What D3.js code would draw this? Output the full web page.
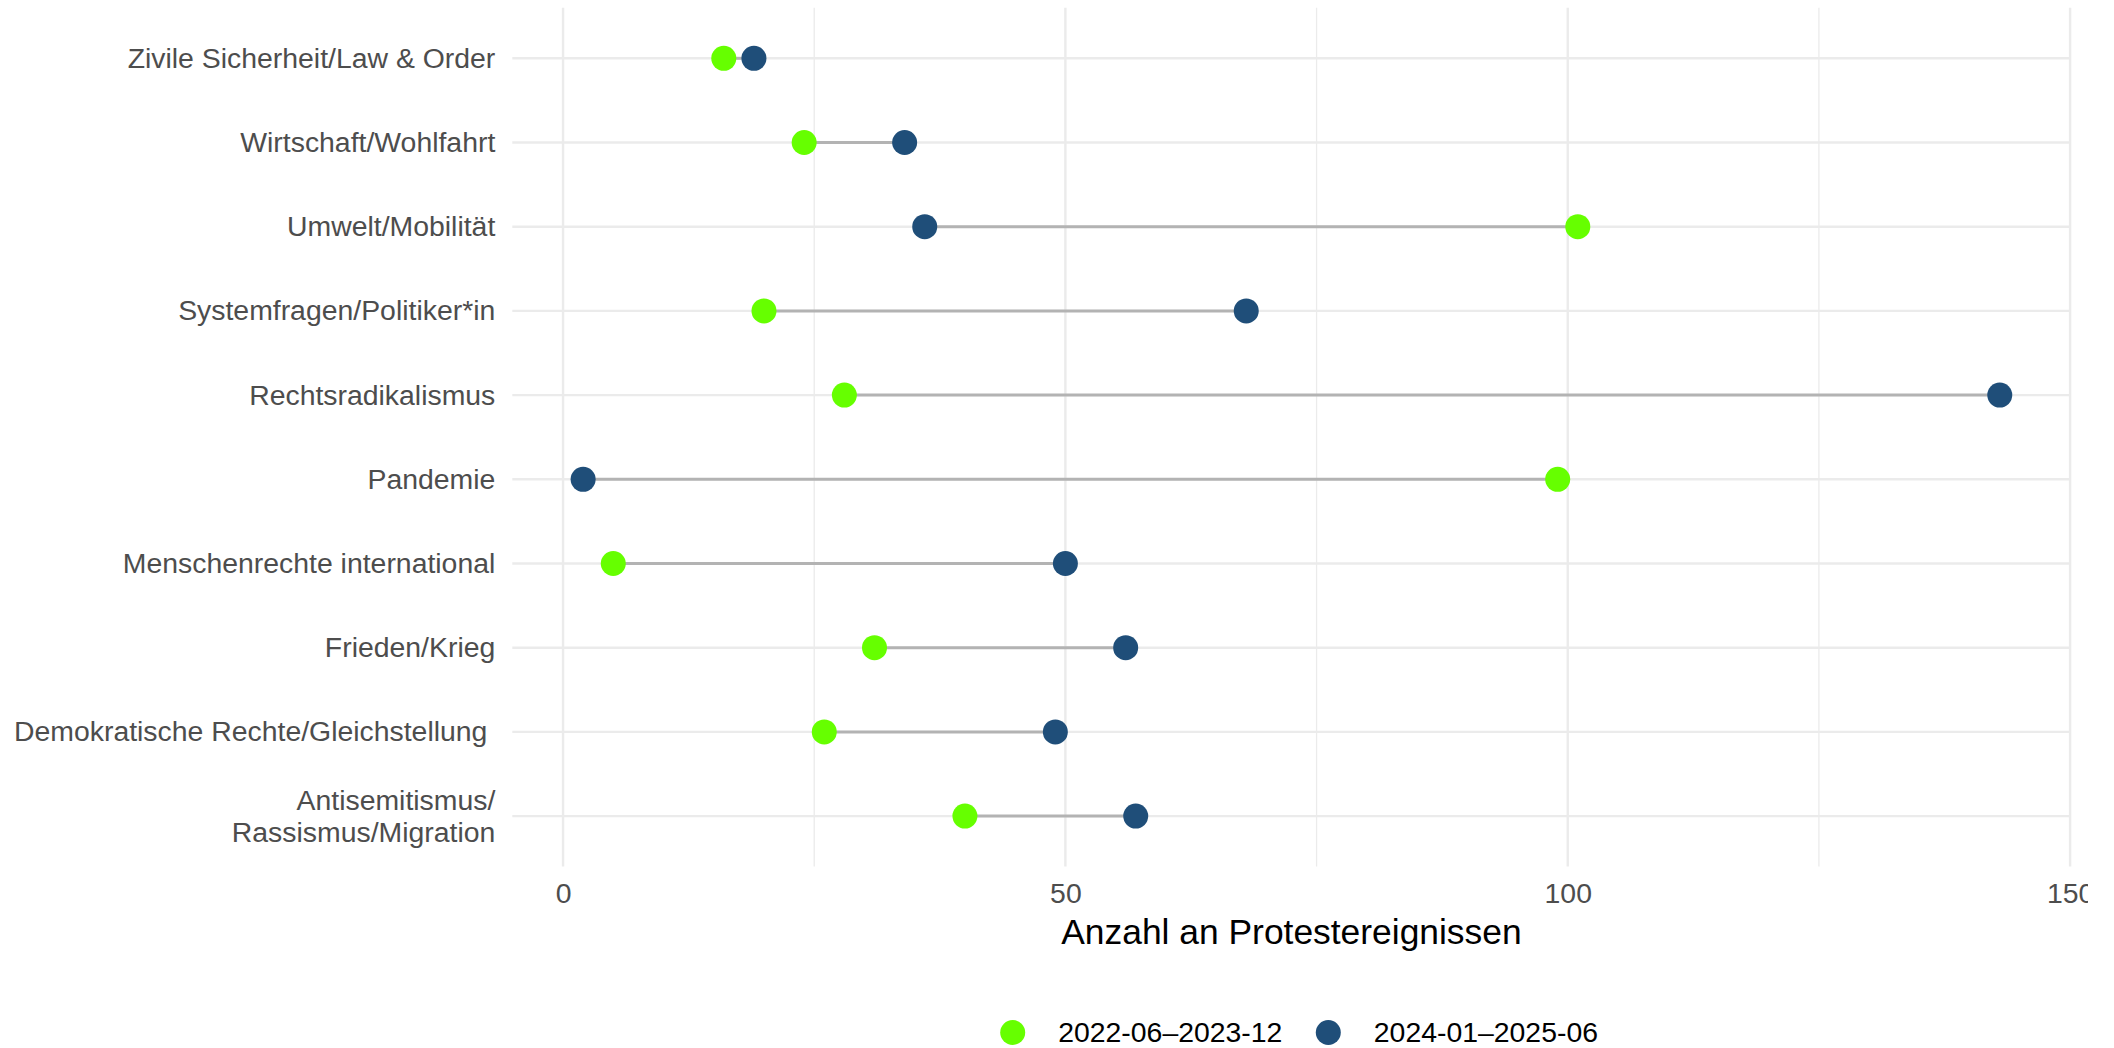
<!DOCTYPE html>
<html>
<head>
<meta charset="utf-8">
<script src="https://cdn.jsdelivr.net/npm/d3@7"></script>
<style>
  html, body { margin: 0; padding: 0; background: #ffffff; }
  svg { display: block; overflow: hidden; }
  text { font-family: "Liberation Sans", Arial, Helvetica, sans-serif; }
</style>
</head>
<body>
<script>
// Categories, bottom to top (as in the reference, alphabetical from bottom)
const categories = [
  "Antisemitismus/\nRassismus/Migration",
  "Demokratische Rechte/Gleichstellung ",
  "Frieden/Krieg",
  "Menschenrechte international",
  "Pandemie",
  "Rechtsradikalismus",
  "Systemfragen/Politiker*in",
  "Umwelt/Mobilität",
  "Wirtschaft/Wohlfahrt",
  "Zivile Sicherheit/Law & Order"
];
const period1Values = [40, 26, 31, 5, 99, 28, 20, 101, 24, 16];
const period2Values = [57, 49, 56, 50, 2, 143, 68, 36, 34, 19];
const seriesNames = ["2022-06\u20132023-12", "2024-01\u20132025-06"];
const seriesColors = ["#66ff00", "#1f4e79"];
const xTicks = [0, 50, 100, 150];
const xMinorTicks = [25, 75, 125];
const xTitle = "Anzahl an Protestereignissen";

const W = 2088, H = 1048;
const svg = d3.select("body").append("svg").attr("width", W).attr("height", H);

const panel = { left: 512.3, right: 2070.6, top: 7.8, bottom: 866.6 };
const x = d3.scaleLinear().domain([-5.05, 150.05]).range([panel.left, panel.right]);
const y = d3.scalePoint().domain(categories.slice().reverse()).range([58.3, 816.1]).padding(0);

const grid = "#ebebeb";
// minor vertical gridlines
svg.append("g").selectAll("line").data(xMinorTicks).join("line")
  .attr("x1", d => x(d)).attr("x2", d => x(d))
  .attr("y1", panel.top).attr("y2", panel.bottom)
  .attr("stroke", grid).attr("stroke-width", 1.3);
// major vertical gridlines
svg.append("g").selectAll("line").data(xTicks).join("line")
  .attr("x1", d => x(d)).attr("x2", d => x(d))
  .attr("y1", panel.top).attr("y2", panel.bottom)
  .attr("stroke", grid).attr("stroke-width", 2.4);
// horizontal gridlines
svg.append("g").selectAll("line").data(categories).join("line")
  .attr("x1", panel.left).attr("x2", panel.right)
  .attr("y1", d => y(d)).attr("y2", d => y(d))
  .attr("stroke", grid).attr("stroke-width", 2.4);

const rows = categories.map((c, i) => ({ c, a: period1Values[i], b: period2Values[i] }));

// segments
svg.append("g").selectAll("line").data(rows).join("line")
  .attr("x1", d => x(d.a)).attr("x2", d => x(d.b))
  .attr("y1", d => y(d.c)).attr("y2", d => y(d.c))
  .attr("stroke", "#b3b3b3").attr("stroke-width", 3);

// points
svg.append("g").selectAll("circle").data(rows).join("circle")
  .attr("cx", d => x(d.a)).attr("cy", d => y(d.c)).attr("r", 12.5)
  .attr("fill", seriesColors[0]);
svg.append("g").selectAll("circle").data(rows).join("circle")
  .attr("cx", d => x(d.b)).attr("cy", d => y(d.c)).attr("r", 12.5)
  .attr("fill", seriesColors[1]);

const fs = "28.4px";
// x axis
const xAxis = svg.append("g").attr("transform", `translate(0,${panel.bottom})`)
  .call(d3.axisBottom(x).tickValues(xTicks).tickSize(0).tickPadding(16).tickFormat(d3.format("d")));
xAxis.select(".domain").remove();
xAxis.selectAll("text").attr("fill", "#4d4d4d").style("font-size", fs)
  .style("font-family", '"Liberation Sans", Arial, sans-serif');

// y axis
const yAxis = svg.append("g").attr("transform", `translate(${panel.left},0)`)
  .call(d3.axisLeft(y).tickSize(0).tickPadding(17));
yAxis.select(".domain").remove();
yAxis.selectAll("text")
  .attr("fill", "#4d4d4d").style("font-size", fs)
  .style("font-family", '"Liberation Sans", Arial, sans-serif')
  .style("white-space", "pre")
  .each(function(d) {
    const lines = d.split("\n");
    if (lines.length > 1) {
      const t = d3.select(this);
      t.text(null).attr("dy", null);
      lines.forEach((ln, i) => {
        t.append("tspan").attr("x", t.attr("x")).attr("dy", i === 0 ? "-0.22em" : "1.13em").text(ln);
      });
    }
  });

// x title
svg.append("text")
  .attr("x", (panel.left + panel.right) / 2).attr("y", 944)
  .attr("text-anchor", "middle").attr("fill", "#000000")
  .style("font-size", "35.4px").text(xTitle);

// legend
const legendX = [1012.7, 1328.3];
const lg = svg.append("g").selectAll("g").data(seriesNames).join("g")
  .attr("transform", (d, i) => `translate(${legendX[i]},1032.5)`);
lg.append("circle").attr("r", 12.5).attr("fill", (d, i) => seriesColors[i]);
lg.append("text").attr("x", 45.5).attr("dy", "0.35em").attr("fill", "#000000")
  .style("font-size", fs).text(d => d);
</script>
</body>
</html>
